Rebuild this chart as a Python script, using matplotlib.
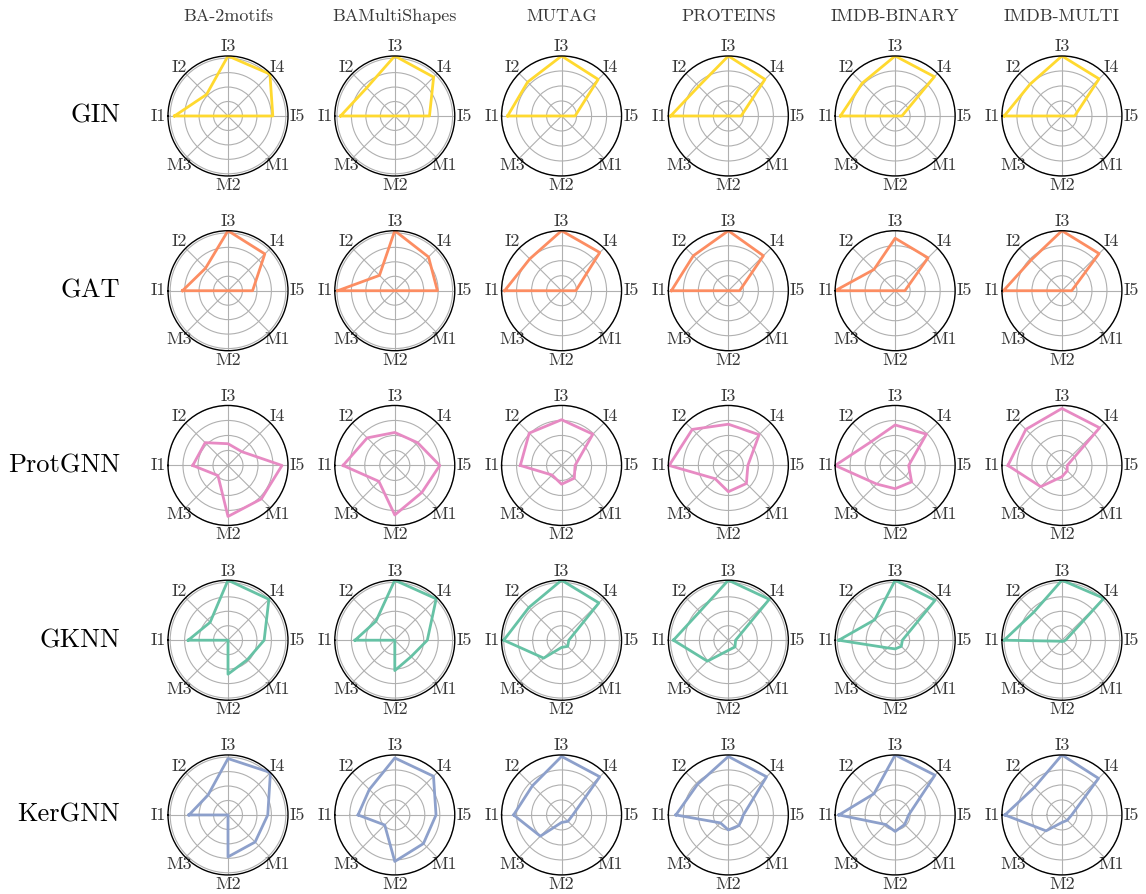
import numpy as np
import matplotlib.pyplot as plt

plt.rcParams['font.family'] = 'serif'
plt.rcParams['font.serif'] = ['cmr10', 'DejaVu Serif']
plt.rcParams['mathtext.fontset'] = 'cm'
plt.rcParams['axes.unicode_minus'] = False

datasets = ['BA-2motifs', 'BAMultiShapes', 'MUTAG', 'PROTEINS', 'IMDB-BINARY', 'IMDB-MULTI']
models = ['GIN', 'GAT', 'ProtGNN', 'GKNN', 'KerGNN']
metrics = ['I1', 'I2', 'I3', 'I4', 'I5', 'M1', 'M2', 'M3']
colors = ['#ffd92f', '#fc8d62', '#e78ac3', '#66c2a5', '#8da0cb']

# one row of 8 scores (I1..I5, M1..M3) per dataset
gin = [
    [0.74, 0.42, 0.83, 0.82, 0.62, 0.0, 0.0, 0.0],
    [0.75, 0.55, 0.83, 0.76, 0.48, 0.0, 0.0, 0.0],
    [0.72, 0.64, 0.80, 0.69, 0.18, 0.0, 0.0, 0.0],
    [0.77, 0.56, 0.80, 0.69, 0.17, 0.0, 0.0, 0.0],
    [0.73, 0.62, 0.80, 0.74, 0.09, 0.0, 0.0, 0.0],
    [0.77, 0.60, 0.80, 0.70, 0.17, 0.0, 0.0, 0.0],
]
gat = [
    [0.63, 0.44, 0.83, 0.72, 0.34, 0.0, 0.0, 0.0],
    [0.79, 0.30, 0.83, 0.66, 0.59, 0.0, 0.0, 0.0],
    [0.76, 0.60, 0.80, 0.72, 0.19, 0.0, 0.0, 0.0],
    [0.76, 0.66, 0.80, 0.66, 0.15, 0.0, 0.0, 0.0],
    [0.80, 0.40, 0.70, 0.62, 0.13, 0.0, 0.0, 0.0],
    [0.78, 0.58, 0.80, 0.70, 0.13, 0.0, 0.0, 0.0],
]
protgnn = [
    [0.47, 0.43, 0.29, 0.26, 0.72, 0.63, 0.68, 0.19],
    [0.69, 0.52, 0.44, 0.43, 0.60, 0.51, 0.66, 0.30],
    [0.55, 0.61, 0.61, 0.59, 0.18, 0.24, 0.25, 0.18],
    [0.79, 0.68, 0.55, 0.58, 0.26, 0.34, 0.35, 0.25],
    [0.80, 0.45, 0.54, 0.59, 0.18, 0.31, 0.31, 0.35],
    [0.72, 0.68, 0.76, 0.71, 0.07, 0.10, 0.15, 0.40],
]
gknn = [
    [0.55, 0.35, 0.83, 0.80, 0.50, 0.38, 0.47, 0.0],
    [0.55, 0.37, 0.83, 0.81, 0.45, 0.32, 0.42, 0.0],
    [0.80, 0.64, 0.83, 0.73, 0.10, 0.12, 0.10, 0.35],
    [0.76, 0.56, 0.83, 0.80, 0.10, 0.13, 0.14, 0.41],
    [0.78, 0.40, 0.83, 0.78, 0.10, 0.12, 0.12, 0.15],
    [0.80, 0.55, 0.83, 0.82, 0.05, 0.02, 0.02, 0.02],
]
kergnn = [
    [0.54, 0.39, 0.78, 0.83, 0.55, 0.53, 0.58, 0.0],
    [0.49, 0.48, 0.76, 0.73, 0.55, 0.54, 0.62, 0.19],
    [0.64, 0.55, 0.78, 0.72, 0.15, 0.12, 0.10, 0.40],
    [0.70, 0.58, 0.78, 0.72, 0.20, 0.20, 0.20, 0.15],
    [0.75, 0.40, 0.80, 0.75, 0.18, 0.18, 0.22, 0.18],
    [0.76, 0.52, 0.80, 0.69, 0.13, 0.10, 0.10, 0.30],
]
scores = [gin, gat, protgnn, gknn, kergnn]

angles = np.linspace(0, 2 * np.pi, len(metrics), endpoint=False)
closed = np.append(angles, angles[0])

fig, axes = plt.subplots(
    5, 6, figsize=(11.46, 8.94), dpi=100, subplot_kw={'projection': 'polar'},
    gridspec_kw=dict(left=0.1466, right=0.979, top=0.9374, bottom=0.0213,
                     wspace=0.39, hspace=0.456))

for i, model in enumerate(models):
    for j, name in enumerate(datasets):
        ax = axes[i, j]
        vals = np.array(scores[i][j])
        ax.set_theta_offset(np.pi)
        ax.set_theta_direction(-1)
        ax.plot(closed, np.append(vals, vals[0]), color=colors[i], lw=2)
        ax.set_xticks(angles)
        ax.set_xticklabels(metrics, fontsize=13, color='0.22')
        ax.tick_params(axis='x', size=0, pad=-0.3)
        ax.set_yticks([0.2, 0.4, 0.6, 0.8])
        ax.set_yticklabels([])
        ax.set_ylim(0, max(0.8, vals.max()))
        ax.grid(color='#b0b0b0', lw=0.8)
        ax.spines['polar'].set_linewidth(1.0)
        if i == 0:
            ax.set_title(name, fontsize=13, color='0.22', pad=25)
        if j == 0:
            ax.text(-0.4, 0.5, model, transform=ax.transAxes, ha='right',
                    va='center', fontsize=19)

fig.savefig('out.png', dpi=100)
